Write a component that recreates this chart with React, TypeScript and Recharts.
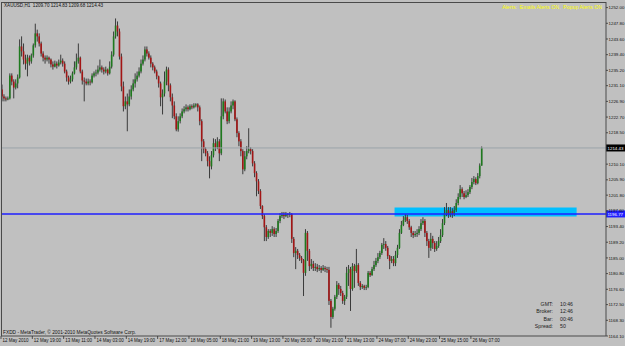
import { Bar, ComposedChart, ReferenceArea, ReferenceLine, XAxis, YAxis } from 'recharts'

// XAUUSD H1, 12 May 03:00 .. 26 May 12:00 (broker time), [open, high, low, close]
const candles: [number, number, number, number][] = [
  [1230.1, 1231.4, 1226.9, 1228.2], [1228.2, 1228.8, 1226.9, 1227.7], [1227.7, 1228.2, 1226.9, 1227.4], [1227.4, 1228.2, 1227.2, 1227.7],
  [1227.7, 1234.4, 1227.4, 1233.8], [1233.8, 1234.4, 1231.2, 1232.2], [1232.2, 1232.8, 1227.7, 1230.6], [1230.6, 1232.8, 1230.1, 1231.7],
  [1231.7, 1234.1, 1230.4, 1233.3], [1233.3, 1243.5, 1233.0, 1241.6], [1241.6, 1244.3, 1238.9, 1240.3], [1240.3, 1242.4, 1236.8, 1238.1],
  [1238.1, 1239.4, 1235.4, 1237.0], [1237.0, 1239.4, 1233.6, 1238.6], [1238.6, 1239.2, 1236.5, 1237.6], [1237.6, 1239.7, 1237.0, 1239.2],
  [1239.2, 1242.4, 1238.6, 1241.9], [1241.9, 1247.7, 1241.3, 1245.1], [1245.1, 1246.1, 1242.9, 1244.3], [1244.3, 1245.1, 1241.6, 1242.4],
  [1242.4, 1242.9, 1238.9, 1239.7], [1239.7, 1240.3, 1237.6, 1238.6], [1238.6, 1239.2, 1237.0, 1238.1], [1238.1, 1239.2, 1237.6, 1238.6],
  [1238.6, 1238.9, 1237.0, 1238.1], [1238.1, 1238.4, 1236.0, 1236.8], [1236.8, 1237.6, 1235.4, 1236.2], [1236.2, 1237.8, 1236.0, 1237.0],
  [1237.0, 1237.6, 1235.7, 1236.5], [1236.5, 1238.1, 1236.2, 1237.3], [1237.3, 1239.4, 1236.8, 1237.8], [1237.8, 1238.4, 1236.2, 1237.0],
  [1237.0, 1237.6, 1234.4, 1234.9], [1234.9, 1235.4, 1232.2, 1233.3], [1233.3, 1233.8, 1231.4, 1232.2], [1232.2, 1233.8, 1231.7, 1232.8],
  [1232.8, 1234.9, 1232.2, 1234.4], [1234.4, 1237.6, 1234.1, 1236.0], [1236.0, 1239.7, 1235.4, 1237.6], [1237.6, 1242.4, 1237.0, 1238.6],
  [1238.6, 1238.9, 1234.4, 1234.9], [1234.9, 1235.4, 1231.4, 1232.5], [1232.5, 1233.3, 1226.9, 1232.2], [1232.2, 1233.0, 1231.2, 1231.7],
  [1231.7, 1233.0, 1231.2, 1232.2], [1232.2, 1232.8, 1231.2, 1232.0], [1232.0, 1234.4, 1231.7, 1233.8], [1233.8, 1234.9, 1233.3, 1234.4],
  [1234.4, 1235.4, 1233.6, 1234.6], [1234.6, 1236.5, 1234.1, 1235.4], [1235.4, 1238.1, 1234.9, 1236.0], [1236.0, 1236.5, 1234.6, 1235.4],
  [1235.4, 1236.0, 1234.1, 1234.9], [1234.9, 1236.2, 1234.4, 1235.4], [1235.4, 1235.7, 1233.8, 1234.4], [1234.4, 1237.6, 1234.1, 1236.2],
  [1236.2, 1240.3, 1235.7, 1239.4], [1239.4, 1245.6, 1238.9, 1244.3], [1244.3, 1249.1, 1243.7, 1247.2], [1247.2, 1248.3, 1244.3, 1245.6],
  [1245.6, 1246.4, 1238.1, 1238.9], [1238.9, 1239.7, 1229.6, 1230.9], [1230.9, 1232.2, 1224.2, 1225.6], [1225.6, 1228.2, 1224.8, 1226.9],
  [1226.9, 1229.0, 1218.9, 1226.1], [1226.1, 1230.1, 1225.6, 1228.2], [1228.2, 1231.2, 1227.4, 1230.1], [1230.1, 1232.8, 1229.6, 1231.7],
  [1231.7, 1234.4, 1230.6, 1232.8], [1232.8, 1234.9, 1232.2, 1233.8], [1233.8, 1236.0, 1233.3, 1234.9], [1234.9, 1238.1, 1234.4, 1237.0],
  [1237.0, 1239.2, 1236.5, 1238.1], [1238.1, 1241.6, 1237.6, 1240.8], [1240.8, 1241.6, 1238.9, 1239.7], [1239.7, 1240.3, 1238.1, 1238.6],
  [1238.6, 1239.2, 1236.0, 1237.0], [1237.0, 1237.4, 1235.2, 1236.0], [1236.0, 1236.5, 1234.4, 1234.9], [1234.9, 1235.4, 1232.8, 1233.6],
  [1233.6, 1233.8, 1230.6, 1231.7], [1231.7, 1232.2, 1225.6, 1228.0], [1228.0, 1230.1, 1223.4, 1229.0], [1229.0, 1234.9, 1228.2, 1232.2],
  [1232.2, 1236.2, 1231.2, 1235.4], [1235.4, 1236.0, 1229.6, 1231.2], [1231.2, 1231.7, 1226.9, 1228.0], [1228.0, 1229.0, 1222.4, 1225.8],
  [1225.8, 1226.9, 1222.1, 1222.9], [1222.9, 1223.7, 1218.9, 1219.4], [1219.4, 1222.9, 1218.8, 1221.6], [1221.6, 1223.7, 1221.0, 1222.9],
  [1222.9, 1225.0, 1222.4, 1224.2], [1224.2, 1225.6, 1223.7, 1224.8], [1224.8, 1226.1, 1224.2, 1225.3], [1225.3, 1225.8, 1224.2, 1224.8],
  [1224.8, 1226.1, 1224.5, 1225.6], [1225.6, 1226.1, 1224.8, 1225.3], [1225.3, 1226.4, 1225.0, 1225.8], [1225.8, 1226.4, 1225.3, 1226.1],
  [1226.1, 1226.4, 1224.2, 1225.3], [1225.3, 1225.8, 1220.5, 1221.6], [1221.6, 1222.1, 1210.9, 1216.2], [1216.2, 1216.8, 1213.0, 1214.1],
  [1214.1, 1214.6, 1212.2, 1213.0], [1213.0, 1213.6, 1209.5, 1210.9], [1210.9, 1212.2, 1206.3, 1209.5], [1209.5, 1213.6, 1208.7, 1212.5],
  [1212.5, 1217.0, 1211.9, 1215.7], [1215.7, 1216.8, 1213.6, 1214.6], [1214.6, 1217.3, 1214.1, 1216.2], [1216.2, 1216.8, 1210.9, 1213.0],
  [1213.0, 1227.7, 1212.5, 1222.9], [1222.9, 1227.7, 1222.1, 1226.9], [1226.9, 1227.4, 1223.7, 1224.2], [1224.2, 1225.3, 1220.8, 1221.6],
  [1221.6, 1225.3, 1221.0, 1224.2], [1224.2, 1226.9, 1223.7, 1225.8], [1225.8, 1227.4, 1224.8, 1226.9], [1226.9, 1227.2, 1221.6, 1222.1],
  [1222.1, 1222.6, 1217.3, 1218.4], [1218.4, 1218.9, 1214.9, 1216.2], [1216.2, 1216.8, 1212.2, 1213.6], [1213.6, 1214.1, 1207.4, 1208.7],
  [1208.7, 1213.6, 1208.2, 1212.2], [1212.2, 1214.9, 1211.4, 1213.6], [1213.6, 1219.7, 1213.0, 1214.1], [1214.1, 1214.6, 1212.7, 1213.6],
  [1213.6, 1214.1, 1209.5, 1210.3], [1210.3, 1210.9, 1206.6, 1207.7], [1207.7, 1208.2, 1201.5, 1205.5], [1205.5, 1206.1, 1202.1, 1202.9],
  [1202.9, 1203.4, 1198.1, 1198.9], [1198.9, 1199.1, 1195.4, 1196.2], [1196.2, 1196.7, 1189.5, 1193.2], [1193.2, 1193.8, 1189.5, 1190.6],
  [1190.6, 1192.7, 1190.1, 1192.2], [1192.2, 1192.7, 1190.6, 1191.7], [1191.7, 1193.5, 1190.9, 1192.7], [1192.7, 1193.2, 1190.6, 1191.4],
  [1191.4, 1193.0, 1190.6, 1192.2], [1192.2, 1195.4, 1191.7, 1194.9], [1194.9, 1197.0, 1194.3, 1196.2], [1196.2, 1197.3, 1195.7, 1196.5],
  [1196.5, 1197.3, 1195.4, 1196.2], [1196.2, 1197.3, 1195.9, 1196.7], [1196.7, 1197.0, 1195.7, 1196.5], [1196.5, 1197.3, 1195.9, 1196.7],
  [1196.7, 1197.0, 1189.0, 1190.1], [1190.1, 1190.6, 1185.2, 1186.3], [1186.3, 1187.9, 1182.0, 1186.9], [1186.9, 1187.4, 1184.7, 1185.8],
  [1185.8, 1186.3, 1184.2, 1185.0], [1185.0, 1185.5, 1183.6, 1184.4], [1184.4, 1184.7, 1174.8, 1181.0], [1181.0, 1192.7, 1180.2, 1191.7],
  [1191.7, 1192.2, 1184.2, 1186.9], [1186.9, 1187.4, 1181.5, 1182.8], [1182.8, 1184.7, 1182.0, 1183.4], [1183.4, 1184.2, 1181.5, 1182.3],
  [1182.3, 1183.6, 1181.5, 1182.6], [1182.6, 1183.4, 1181.2, 1182.0], [1182.0, 1183.1, 1181.5, 1182.3], [1182.3, 1182.8, 1181.0, 1181.8],
  [1181.8, 1183.1, 1181.5, 1182.3], [1182.3, 1182.8, 1181.2, 1182.0], [1182.0, 1182.6, 1181.0, 1181.8], [1181.8, 1182.6, 1172.4, 1173.5],
  [1173.5, 1174.0, 1166.3, 1169.2], [1169.2, 1171.9, 1168.7, 1171.4], [1171.4, 1175.1, 1170.9, 1174.6], [1174.6, 1178.8, 1174.0, 1177.8],
  [1177.8, 1178.3, 1175.1, 1176.7], [1176.7, 1177.5, 1174.8, 1175.6], [1175.6, 1176.2, 1172.7, 1173.5], [1173.5, 1175.1, 1172.4, 1174.6],
  [1174.6, 1182.6, 1174.0, 1181.0], [1181.0, 1183.1, 1177.5, 1182.0], [1182.0, 1182.6, 1170.8, 1176.7], [1176.7, 1183.6, 1176.2, 1182.8],
  [1182.8, 1183.4, 1177.0, 1181.5], [1181.5, 1187.4, 1181.0, 1183.1], [1183.1, 1183.6, 1177.5, 1178.3], [1178.3, 1178.8, 1176.4, 1177.2],
  [1177.2, 1178.0, 1176.7, 1177.5], [1177.5, 1177.8, 1176.4, 1177.0], [1177.0, 1177.8, 1176.4, 1177.2], [1177.2, 1181.5, 1176.9, 1181.0],
  [1181.0, 1181.5, 1179.9, 1180.4], [1180.4, 1182.6, 1180.2, 1182.0], [1182.0, 1184.2, 1181.5, 1183.1], [1183.1, 1185.0, 1182.6, 1184.2],
  [1184.2, 1186.3, 1183.6, 1185.2], [1185.2, 1186.9, 1184.7, 1186.3], [1186.3, 1189.0, 1185.8, 1188.5], [1188.5, 1190.3, 1187.4, 1188.7],
  [1188.7, 1189.5, 1186.9, 1187.7], [1187.7, 1188.2, 1184.7, 1185.5], [1185.5, 1185.8, 1182.0, 1184.2], [1184.2, 1185.5, 1183.6, 1184.7],
  [1184.7, 1185.5, 1182.8, 1183.6], [1183.6, 1186.9, 1182.8, 1185.8], [1185.8, 1188.5, 1185.0, 1187.7], [1187.7, 1192.7, 1187.4, 1191.7],
  [1191.7, 1194.9, 1191.4, 1193.8], [1193.8, 1196.2, 1193.5, 1195.1], [1195.1, 1196.7, 1194.6, 1195.9], [1195.9, 1196.5, 1194.1, 1194.9],
  [1194.9, 1195.4, 1192.5, 1193.2], [1193.2, 1193.6, 1190.6, 1191.7], [1191.7, 1192.2, 1190.3, 1191.1], [1191.1, 1192.2, 1190.6, 1191.4],
  [1191.4, 1192.7, 1190.6, 1191.7], [1191.7, 1193.5, 1191.1, 1192.7], [1192.7, 1195.4, 1192.2, 1194.3], [1194.3, 1195.9, 1193.8, 1194.9],
  [1194.9, 1195.4, 1190.6, 1191.7], [1191.7, 1192.2, 1188.2, 1189.5], [1189.5, 1190.1, 1185.0, 1187.7], [1187.7, 1191.7, 1186.9, 1190.1],
  [1190.1, 1190.9, 1187.4, 1189.0], [1189.0, 1189.5, 1186.6, 1187.4], [1187.4, 1189.5, 1186.9, 1188.2], [1188.2, 1190.6, 1187.7, 1189.5],
  [1189.5, 1192.7, 1189.0, 1191.1], [1191.1, 1195.4, 1190.6, 1194.3], [1194.3, 1198.6, 1193.8, 1197.0], [1197.0, 1199.7, 1196.2, 1197.8],
  [1197.8, 1198.6, 1195.7, 1196.5], [1196.5, 1198.6, 1195.9, 1197.5], [1197.5, 1198.3, 1195.7, 1196.7], [1196.7, 1198.9, 1196.2, 1197.8],
  [1197.8, 1200.7, 1197.3, 1199.7], [1199.7, 1202.3, 1199.1, 1201.3], [1201.3, 1204.5, 1200.7, 1203.4], [1203.4, 1203.9, 1201.3, 1202.3],
  [1202.3, 1202.9, 1200.7, 1201.3], [1201.3, 1203.1, 1201.0, 1201.8], [1201.8, 1203.4, 1201.3, 1202.6], [1202.6, 1204.5, 1202.1, 1204.0],
  [1204.0, 1206.4, 1203.4, 1205.3], [1205.3, 1206.9, 1204.7, 1206.1], [1206.1, 1206.6, 1204.5, 1205.0], [1205.0, 1207.7, 1204.7, 1206.9],
  [1206.9, 1210.3, 1206.3, 1209.7], [1209.7, 1214.83, 1209.68, 1214.43],
]

const timeLabels = [
  '12 May 2010', '12 May 19:00', '13 May 11:00', '14 May 03:00', '14 May 19:00', '17 May 12:00',
  '18 May 05:00', '18 May 21:00', '19 May 13:00', '20 May 05:00', '20 May 21:00', '21 May 13:00',
  '24 May 07:00', '24 May 23:00', '25 May 15:00', '26 May 07:00',
]
const barsPerLabel = 16

// 1214.30 sits under the bid box in the original, so it is left out
const priceTicks = [
  1164.1, 1168.3, 1172.5, 1176.6, 1180.8, 1185.0, 1189.2, 1193.4, 1197.6, 1201.8, 1205.9,
  1210.1, 1218.5, 1222.7, 1226.9, 1231.1, 1235.2, 1239.4, 1243.6, 1247.8, 1252.0,
]

const bidPrice = 1214.43
const supportPrice = 1196.77
const zoneLow = 1196.1
const zoneHigh = 1198.5
const zoneFrom = 201
const zoneTo = 293

// chart shift: empty slots to the right of the last bar
const totalSlots = 309

const data = Array.from({ length: totalSlots }, (_, i) => {
  const k = candles[i]
  return k ? { i, o: k[0], h: k[1], l: k[2], c: k[3] } : { i }
})

const FONT = '"Liberation Sans", Arial, sans-serif'

function Candle(props: any) {
  const { x, width, payload } = props
  let { y, height } = props
  if (!payload || payload.h == null) return null
  if (height < 0) {
    y += height
    height = -height
  }
  const { o, h, l, c } = payload
  const k = h === l ? 0 : height / (h - l)
  const cx = x + width / 2
  const top = y + (h - Math.max(o, c)) * k
  const bh = Math.max(Math.abs(o - c) * k, 0.8)
  return (
    <g>
      <line x1={cx} x2={cx} y1={y} y2={y + height} stroke="#3a3a3a" strokeWidth={1} />
      <rect x={cx - 0.8} y={top} width={1.6} height={bh} fill={c >= o ? '#1e7a1e' : '#a31515'} />
    </g>
  )
}

function TimeTick({ x, y, payload }: any) {
  const label = timeLabels[payload.value / barsPerLabel]
  const left = x - 0.98
  return (
    <g>
      <line x1={left} x2={left} y1={y} y2={y + 3} stroke="#333" strokeWidth={0.8} />
      <text x={left + 1.5} y={y + 6.3} fontSize={4.5} fontFamily={FONT} fill="#111">
        {label}
      </text>
    </g>
  )
}

function PriceTick({ x, y, payload }: any) {
  return (
    <g>
      <line x1={x} x2={x + 2} y1={y} y2={y} stroke="#333" strokeWidth={0.8} />
      <text x={x + 2.5} y={y + 1.6} fontSize={4.4} fontFamily={FONT} fill="#111">
        {payload.value.toFixed(2)}
      </text>
    </g>
  )
}

function priceBox(text: string, bg: string) {
  return ({ viewBox }: any) => {
    const right = viewBox.x + viewBox.width
    return (
      <g>
        <rect x={right} y={viewBox.y - 3.5} width={19} height={7} fill={bg} />
        <text x={right + 1.5} y={viewBox.y + 1.6} fontSize={4.4} fontFamily={FONT} fill="#fff">
          {text}
        </text>
      </g>
    )
  }
}

const txt = (extra: React.CSSProperties): React.CSSProperties => ({
  position: 'absolute',
  fontFamily: FONT,
  fontSize: 5,
  lineHeight: 1,
  whiteSpace: 'pre',
  color: '#111',
  ...extra,
})

export default function App() {
  const tickIdx = timeLabels.map((_, k) => k * barsPerLabel)
  return (
    <div
      style={{
        position: 'fixed',
        left: 0,
        top: 0,
        width: 625,
        height: 346,
        background: '#c0c0c0',
        overflow: 'hidden',
      }}
    >
      <ComposedChart
        width={625}
        height={346}
        data={data}
        margin={{ top: 2, right: 0, left: 1, bottom: 0 }}
        barCategoryGap={0}
        barGap={0}
      >
        <XAxis
          dataKey="i"
          type="category"
          ticks={tickIdx}
          interval={0}
          height={10}
          tick={<TimeTick />}
          tickLine={false}
          tickSize={0}
          tickMargin={0}
          axisLine={{ stroke: '#4a4a4a' }}
        />
        <YAxis
          orientation="right"
          width={19}
          domain={[1164.1, 1253.5]}
          ticks={priceTicks}
          allowDataOverflow
          interval={0}
          tick={<PriceTick />}
          tickLine={false}
          tickSize={0}
          tickMargin={0}
          axisLine={{ stroke: '#4a4a4a' }}
        />
        <ReferenceArea
          x1={zoneFrom}
          x2={zoneTo}
          y1={zoneLow}
          y2={zoneHigh}
          fill="#00bfff"
          fillOpacity={1}
          stroke="none"
        />
        <ReferenceLine
          y={supportPrice}
          stroke="#1f1fff"
          strokeWidth={1.6}
          label={{ content: priceBox(supportPrice.toFixed(2), '#1f1fff') }}
        />
        <ReferenceLine
          y={bidPrice}
          stroke="#9aa3aa"
          strokeWidth={1}
          label={{ content: priceBox(bidPrice.toFixed(2), '#000') }}
        />
        <Bar
          dataKey={(d: any) => (d.h == null ? null : [d.l, d.h])}
          shape={<Candle />}
          isAnimationActive={false}
        />
      </ComposedChart>
      <div
        style={{
          position: 'absolute',
          left: 1,
          top: 2,
          width: 605,
          height: 334,
          borderLeft: '1px solid #4a4a4a',
          borderTop: '1px solid #4a4a4a',
          boxSizing: 'border-box',
          pointerEvents: 'none',
        }}
      />
      <div style={txt({ left: 4, top: 4, fontSize: 4.6 })}>
        XAUUSD,H1  1209.70 1214.83 1209.68 1214.43
      </div>
      <div style={txt({ right: 23, top: 5, fontSize: 5.2, color: '#ffff00' })}>
        Alerts:  Emails Alerts ON,  Popup Alerts ON
      </div>
      <div style={txt({ left: 3, top: 330.5, fontSize: 4.8 })}>
        FXDD - MetaTrader, © 2001-2010 MetaQuotes Software Corp.
      </div>
      {[
        ['GMT:', '10:46'],
        ['Broker:', '12:46'],
        ['Bar:', '00:46'],
        ['Spread:', '50'],
      ].map(([k, v], n) => (
        <div key={k} style={txt({ left: 527, top: 301.5 + n * 7.6, fontSize: 5.2, color: '#222' })}>
          <span style={{ display: 'inline-block', width: 26, textAlign: 'right' }}>{k}</span>
          <span style={{ display: 'inline-block', marginLeft: 7 }}>{v}</span>
        </div>
      ))}
    </div>
  )
}
